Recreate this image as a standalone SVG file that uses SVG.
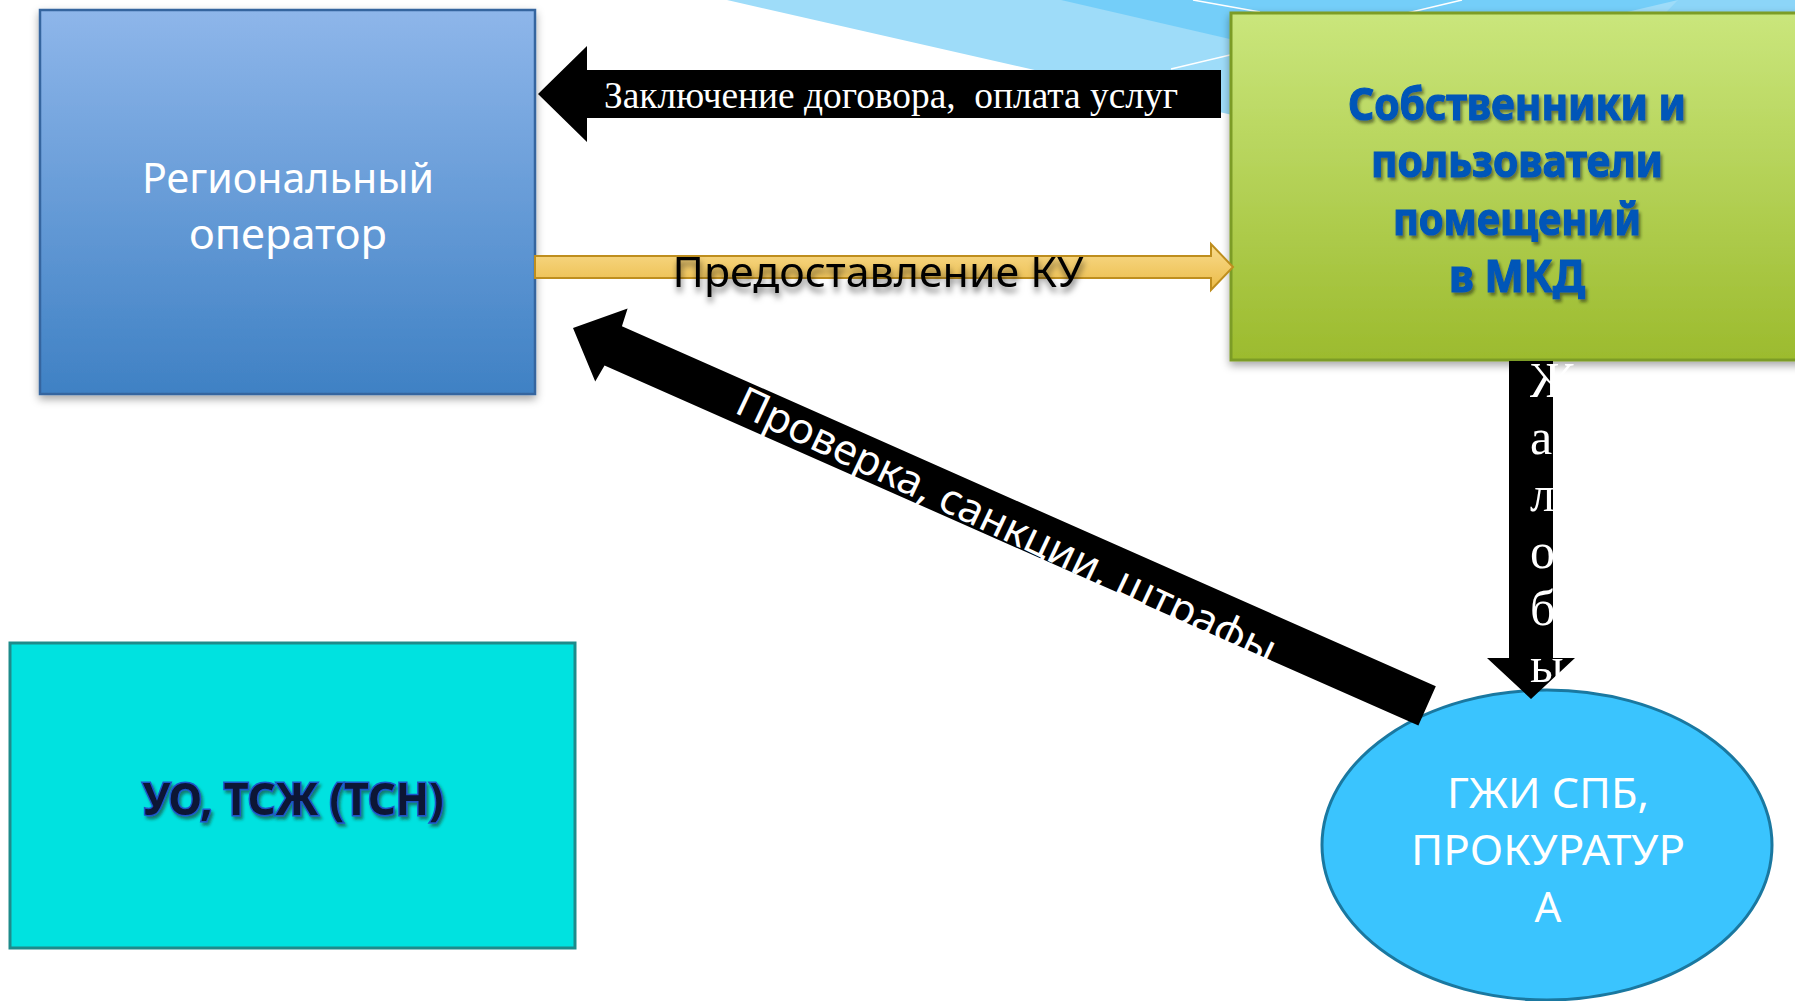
<svg xmlns="http://www.w3.org/2000/svg" width="1795" height="1001" viewBox="0 0 1795 1001">
<defs>
<linearGradient id="gBlue" x1="0" y1="0" x2="0" y2="1"><stop offset="0" stop-color="#8EB6EA"/><stop offset="1" stop-color="#3F81C4"/></linearGradient>
<linearGradient id="gGreen" x1="0" y1="0" x2="0" y2="1"><stop offset="0" stop-color="#CAE67C"/><stop offset="1" stop-color="#9CBB2E"/></linearGradient>
<linearGradient id="gGold" x1="0" y1="0" x2="0" y2="1"><stop offset="0" stop-color="#F9DC8E"/><stop offset="1" stop-color="#EBBB48"/></linearGradient>
<filter id="shadow" x="-10%" y="-10%" width="120%" height="130%"><feDropShadow dx="0" dy="4" stdDeviation="4" flood-color="#000" flood-opacity="0.35"/></filter>
<filter id="tshadow" x="-10%" y="-30%" width="120%" height="170%"><feDropShadow dx="1" dy="5" stdDeviation="3" flood-color="#000" flood-opacity="0.55"/></filter>
<filter id="tshadow2" x="-10%" y="-30%" width="120%" height="170%"><feDropShadow dx="2" dy="3" stdDeviation="1.5" flood-color="#1a2a10" flood-opacity="0.55"/></filter>
<style>
.sans{font-family:"Noto Sans","Open Sans","DejaVu Sans",sans-serif}
.serif{font-family:"Liberation Serif","Times New Roman",serif}
.wt{fill:#fff}
.mid{text-anchor:middle}
</style>
</defs>
<rect width="1795" height="1001" fill="#fff"/>
<g id="background">
<polygon points="727,0 1795,0 1795,250 1250,119" fill="#9EDCF9"/>
<polygon points="1061,0 1678,0 1372,72" fill="#74CEF9"/>
<polygon points="1678,0 1795,0 1795,30 1600,80" fill="#8CD5F8"/>
<line x1="1193" y1="0" x2="1260" y2="12" stroke="#fff" stroke-width="1.5"/>
<line x1="1171" y1="69" x2="1462" y2="0" stroke="#fff" stroke-width="1.5"/>
</g>
<g id="node-regional">
<rect x="40" y="10" width="495" height="384" fill="url(#gBlue)" stroke="#36659F" stroke-width="2.5" filter="url(#shadow)"/>
<text class="sans wt mid" x="288" y="193" font-size="42" textLength="292" lengthAdjust="spacingAndGlyphs">Региональный</text>
<text class="sans wt mid" x="288" y="249" font-size="42" textLength="198" lengthAdjust="spacingAndGlyphs">оператор</text>
</g>
<g id="node-owners">
<rect x="1231" y="13" width="580" height="347" fill="url(#gGreen)" stroke="#7C9C26" stroke-width="3" filter="url(#shadow)"/>
<g class="sans mid" font-weight="bold" font-size="45" fill="#0556B8" stroke="#0556B8" stroke-width="1.2" filter="url(#tshadow2)">
<text x="1517" y="120" textLength="338" lengthAdjust="spacingAndGlyphs">Собственники и</text>
<text x="1517" y="177" textLength="292" lengthAdjust="spacingAndGlyphs">пользователи</text>
<text x="1517" y="235" textLength="248" lengthAdjust="spacingAndGlyphs">помещений</text>
<text x="1517" y="292" textLength="136" lengthAdjust="spacingAndGlyphs">в МКД</text>
</g>
</g>
<g id="node-uo">
<rect x="10" y="643" width="565" height="305" fill="#00E2E0" stroke="#1E8B8B" stroke-width="3"/>
<text class="sans mid" x="293" y="815" font-size="45" font-weight="bold" fill="#071436" stroke="#1F55C8" stroke-width="3" paint-order="stroke" filter="url(#tshadow2)" textLength="301" lengthAdjust="spacingAndGlyphs">УО, ТСЖ (ТСН)</text>
</g>
<g id="node-gzhi">
<ellipse cx="1547" cy="845" rx="225" ry="155" fill="#3AC4FE" stroke="#1A78A0" stroke-width="3"/>
<text class="sans wt mid" x="1548" y="808" font-size="42" textLength="202" lengthAdjust="spacingAndGlyphs">ГЖИ СПБ,</text>
<text class="sans wt mid" x="1548" y="865" font-size="42" textLength="274" lengthAdjust="spacingAndGlyphs">ПРОКУРАТУР</text>
<text class="sans wt mid" x="1548" y="922" font-size="42">А</text>
</g>
<g id="connectors">
<g id="edge-contract">
<polygon points="538,94 587,46 587,70 1221,70 1221,118 587,118 587,142" fill="#000"/>
<text class="serif wt" x="604" y="108" font-size="38" xml:space="preserve" textLength="574" lengthAdjust="spacingAndGlyphs">Заключение договора,  оплата услуг</text>
</g>
<g id="edge-ku">
<polygon points="535,256 1211,256 1211,244 1233,267 1211,290 1211,278 535,278" fill="url(#gGold)" stroke="#BE8E1E" stroke-width="2" stroke-linejoin="miter"/>
<text class="sans mid" x="878" y="287" font-size="41" fill="#000" filter="url(#tshadow)" textLength="411" lengthAdjust="spacingAndGlyphs">Предоставление КУ</text>
</g>
<g id="edge-check">
<polygon transform="translate(573,328) rotate(23.87)" points="0,0 42,-40 44,-21.5 934,-21.5 934,21.5 44,21.5 42,40" fill="#000"/>
<text class="sans wt mid" transform="translate(1007,525) rotate(25.3)" x="0" y="15" font-size="42" textLength="592" lengthAdjust="spacingAndGlyphs">Проверка, санкции, штрафы</text>
</g>
<g id="edge-complaints">
<polygon points="1509,361 1553,361 1553,658 1575,658 1531,699 1487,658 1509,658" fill="#000"/>
<text class="serif wt" font-size="50">
<tspan x="1530" y="397">Ж</tspan>
<tspan x="1530" y="454">а</tspan>
<tspan x="1530" y="511">л</tspan>
<tspan x="1530" y="568">о</tspan>
<tspan x="1530" y="625">б</tspan>
<tspan x="1530" y="682">ы</tspan>
</text>
</g>
</g>
</svg>
